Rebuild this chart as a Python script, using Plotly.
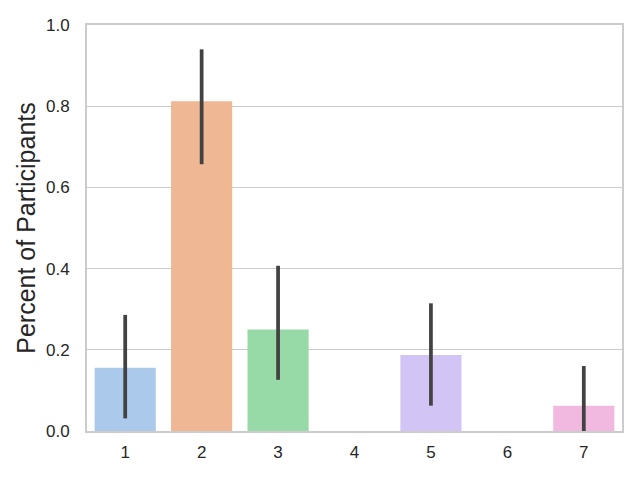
import plotly.graph_objects as go

categories = ["1", "2", "3", "4", "5", "6", "7"]
values = [0.156, 0.8125, 0.25, 0.0, 0.1875, 0.0, 0.0625]
ci_low = [0.031, 0.657, 0.126, 0.0, 0.0625, 0.0, 0.0]
ci_high = [0.286, 0.94, 0.407, 0.0, 0.3145, 0.0, 0.16]
bar_colors = ["#abc9ea", "#efb793", "#98daa7", "#f0a9a6", "#d3c4f6", "#d9bfa8", "#f1b9e0"]
y_ticks = [0.0, 0.2, 0.4, 0.6, 0.8, 1.0]

err_plus = [h - v for h, v in zip(ci_high, values)]
err_minus = [v - l for v, l in zip(values, ci_low)]

fig = go.Figure()
fig.add_trace(go.Bar(
    x=categories, y=values,
    marker=dict(color=bar_colors, line=dict(width=0)),
    width=0.8,
    error_y=dict(type="data", array=err_plus, arrayminus=err_minus,
                 color="#424242", thickness=3.75, width=0, visible=True),
    showlegend=False,
))

font_family = "Liberation Sans, Arial, DejaVu Sans, sans-serif"
fig.update_layout(
    width=640, height=480,
    margin=dict(l=87, r=18, t=25, b=49),
    paper_bgcolor="white", plot_bgcolor="white",
    font=dict(family=font_family, color="#262626", size=17),
    bargap=0.2,
)
fig.update_xaxes(
    range=[-0.5, 6.5], showgrid=False, zeroline=False,
    showline=True, mirror=True, linecolor="#cccccc", linewidth=1.7,
    ticks="outside", ticklen=5, tickcolor="rgba(0,0,0,0)",
    tickfont=dict(size=17, color="#262626"),
)
fig.update_yaxes(
    range=[0, 1], tickvals=y_ticks, ticktext=[f"{t:.1f}" for t in y_ticks],
    showgrid=True, gridcolor="#cccccc", gridwidth=1.4, zeroline=False,
    showline=True, mirror=True, linecolor="#cccccc", linewidth=1.7,
    ticks="outside", ticklen=12, tickcolor="rgba(0,0,0,0)",
    tickfont=dict(size=17, color="#262626"),
    title=dict(text="Percent of Participants", font=dict(size=25, color="#262626"), standoff=3),
)

fig.write_html("out.html", config={"displayModeBar": False},
               post_script="document.body.style.margin='0';")
